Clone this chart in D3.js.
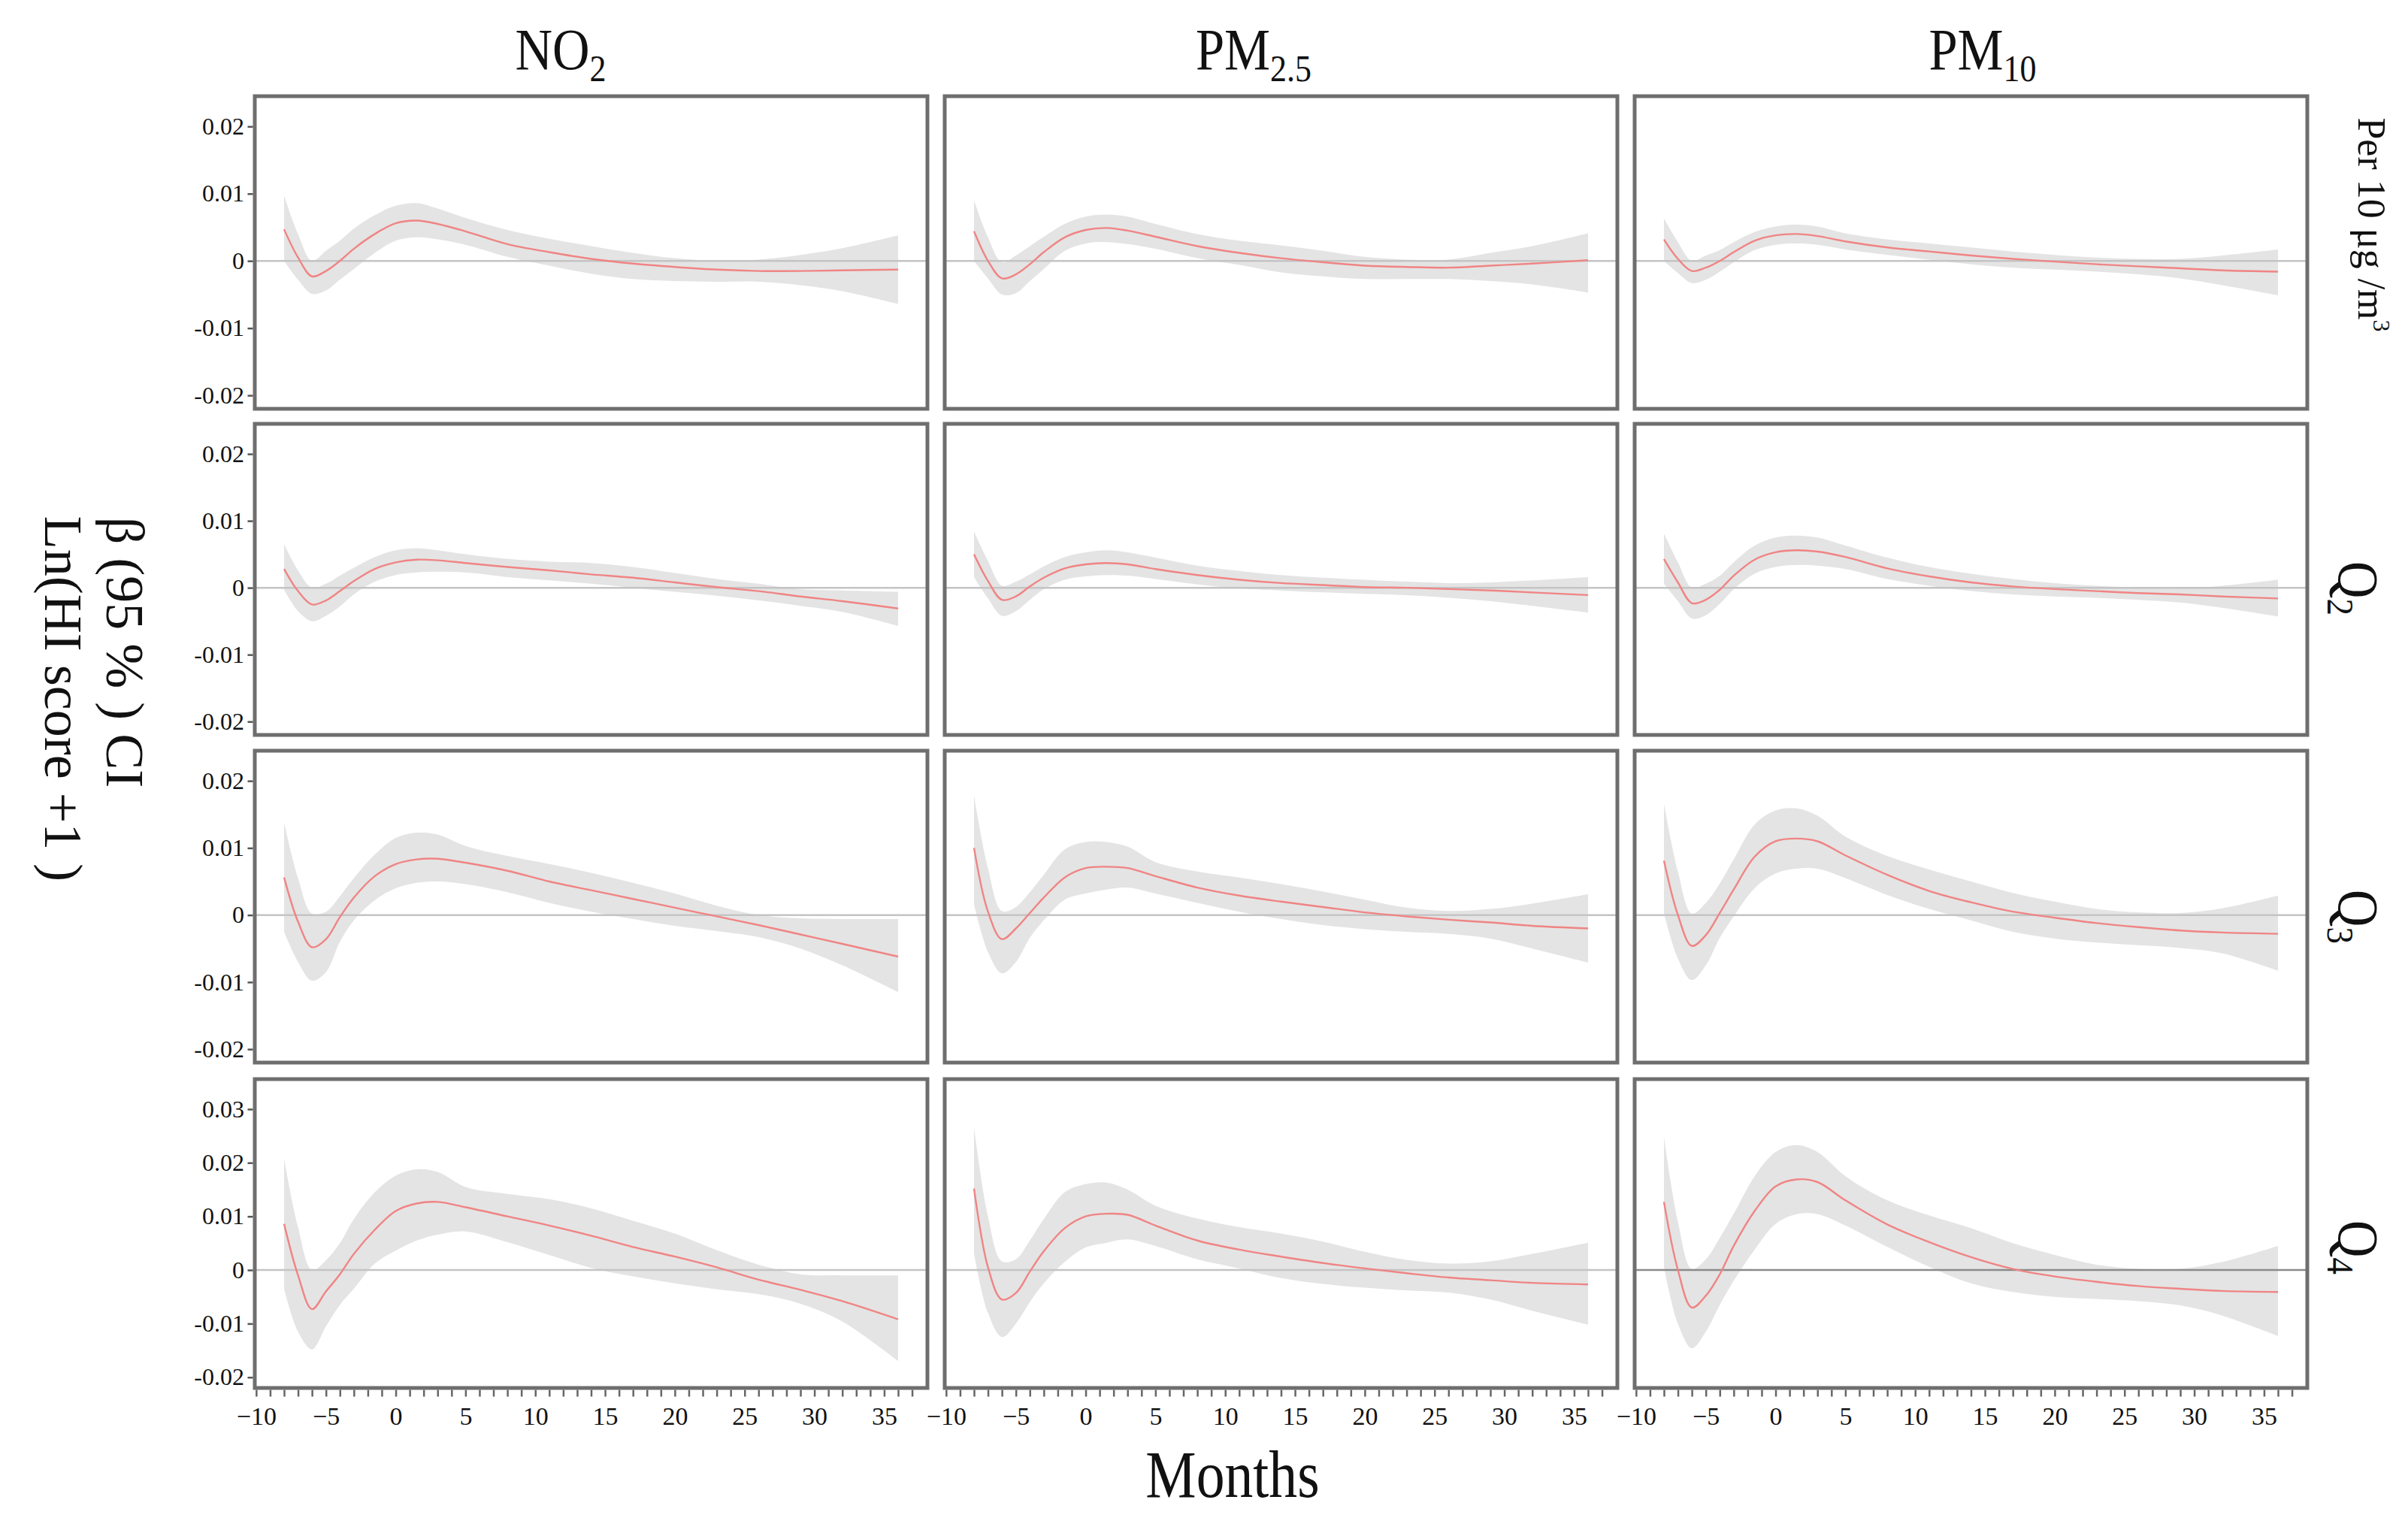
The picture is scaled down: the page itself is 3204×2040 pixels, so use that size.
<!DOCTYPE html>
<html>
<head>
<meta charset="utf-8">
<script src="https://cdn.jsdelivr.net/npm/d3@7"></script>
<style>
  html, body { margin: 0; padding: 0; background: #fff; }
  svg text { font-family: "Liberation Serif", "Times New Roman", serif; fill: #111; }
</style>
</head>
<body>
<svg id="chart" width="3204" height="2040"></svg>
<script>
/* distributed-lag curves: beta (95% CI), values in units of 0.001 */

const MONTHS = [-8, -7, -6, -5, -4, -3, -1.5, 0, 1.5, 3, 5, 8, 11, 14, 17, 20, 23, 26, 29, 32, 36];

const COL_MAIN = ["NO", "PM", "PM"];
const COL_SUB  = ["2", "2.5", "10"];
const ROW_MAIN = ["Per 10 μg /m", "Q", "Q", "Q"];
const ROW_SUP  = ["3", "", "", ""];
const ROW_SUB  = ["", "2", "3", "4"];

const Y_TICKS       = [20, 10, 0, -10, -20];
const Y_TICK_LABELS = ["0.02", "0.01", "0", "-0.01", "-0.02"];
const Y_TICKS_Q4       = [30, 20, 10, 0, -10, -20];
const Y_TICK_LABELS_Q4 = ["0.03", "0.02", "0.01", "0", "-0.01", "-0.02"];
const X_TICKS       = [-10, -5, 0, 5, 10, 15, 20, 25, 30, 35];
const X_TICK_LABELS = ["−10", "−5", "0", "5", "10", "15", "20", "25", "30", "35"];

// rows: per 10 µg/m3, Q2, Q3, Q4
const NO2_FIT = [
  [4.7, 0.5, -2.3, -1.5, 0.0, 1.8, 4.0, 5.6, 6.0, 5.5, 4.4, 2.5, 1.3, 0.3, -0.4, -0.9, -1.3, -1.5, -1.5, -1.4, -1.3],
  [2.8, -0.5, -2.5, -1.9, -0.5, 1.0, 2.8, 3.8, 4.2, 4.1, 3.7, 3.1, 2.6, 2.0, 1.5, 0.8, 0.1, -0.5, -1.3, -2.0, -3.1],
  [5.6, -1.0, -4.8, -3.6, -0.3, 2.6, 5.8, 7.6, 8.3, 8.4, 7.8, 6.6, 5.0, 3.7, 2.4, 1.1, -0.2, -1.5, -2.9, -4.3, -6.2],
  [8.6, -1.0, -7.3, -4.0, -0.8, 3.0, 7.5, 11.0, 12.4, 12.7, 11.7, 10.0, 8.3, 6.4, 4.3, 2.5, 0.5, -1.8, -3.7, -5.8, -9.2]
];
const NO2_HI = [
  [9.7, 4.0, 0.0, 1.5, 3.0, 4.8, 6.8, 8.2, 8.6, 7.8, 6.4, 4.6, 3.3, 2.2, 1.2, 0.4, 0.0, 0.2, 0.9, 1.9, 3.8],
  [6.5, 2.6, 0.0, 0.6, 1.8, 3.0, 4.6, 5.6, 5.9, 5.6, 5.0, 4.3, 3.9, 3.7, 3.1, 2.2, 1.3, 0.6, -0.2, -0.4, -0.6],
  [13.8, 5.5, 0.2, 0.5, 2.8, 5.5, 9.0, 11.5, 12.3, 12.0, 10.3, 8.8, 7.6, 6.3, 4.8, 3.2, 1.4, 0.0, -0.5, -0.6, -0.6],
  [20.7, 8.0, 0.0, 1.8, 5.0, 9.5, 14.5, 17.6, 18.8, 18.3, 15.5, 14.2, 13.2, 11.5, 9.2, 6.8, 3.7, 1.0, -0.8, -1.0, -1.0]
];
const NO2_LO = [
  [0.0, -2.8, -4.9, -4.4, -2.8, -1.2, 1.2, 3.0, 3.5, 3.2, 2.4, 0.6, -0.7, -1.9, -2.7, -3.0, -3.1, -3.1, -3.6, -4.5, -6.4],
  [-0.3, -3.5, -5.0, -4.2, -2.8, -1.0, 0.9, 1.9, 2.3, 2.4, 2.3, 1.6, 1.1, 0.6, 0.0, -0.6, -1.2, -1.9, -2.7, -3.6, -5.7],
  [-2.5, -7.0, -9.8, -8.5, -4.0, -0.8, 2.2, 4.0, 4.8, 5.0, 4.6, 3.4, 1.8, 0.5, -0.6, -1.6, -2.4, -3.3, -5.0, -7.5, -11.5],
  [-3.5, -11.5, -14.8, -10.5, -6.5, -3.5, 1.2, 3.6, 5.5, 6.6, 7.2, 5.2, 2.8, 0.4, -1.2, -2.5, -3.6, -4.5, -6.3, -9.6, -17.0]
];

const PM25_FIT = [
  [4.4, 0.0, -2.6, -2.0, -0.5, 1.3, 3.5, 4.6, 4.9, 4.5, 3.6, 2.2, 1.2, 0.4, -0.2, -0.7, -0.9, -1.0, -0.7, -0.4, 0.1],
  [5.0, 1.0, -1.8, -1.3, 0.2, 1.5, 2.9, 3.5, 3.7, 3.5, 2.8, 1.9, 1.2, 0.7, 0.4, 0.1, 0.0, -0.2, -0.4, -0.7, -1.1],
  [10.0, 0.5, -3.6, -2.0, 0.3, 2.6, 5.6, 7.0, 7.2, 7.0, 5.8, 4.1, 2.9, 2.0, 1.2, 0.4, -0.2, -0.7, -1.1, -1.6, -2.0],
  [15.2, 0.5, -5.5, -4.3, -0.3, 3.5, 7.8, 10.0, 10.5, 10.3, 8.3, 5.5, 3.8, 2.5, 1.3, 0.3, -0.6, -1.4, -1.9, -2.4, -2.7]
];
const PM25_HI = [
  [9.0, 3.5, -0.2, 0.8, 2.2, 3.6, 5.5, 6.6, 6.9, 6.6, 5.5, 4.0, 3.0, 2.3, 1.5, 0.6, 0.2, 0.2, 1.2, 2.2, 4.1],
  [8.4, 4.0, 0.3, 0.9, 2.0, 3.2, 4.6, 5.3, 5.6, 5.3, 4.5, 3.3, 2.5, 1.9, 1.5, 1.2, 0.9, 0.7, 0.8, 1.1, 1.6],
  [17.8, 7.0, 0.6, 1.2, 3.4, 6.0, 9.8, 10.9, 10.9, 10.2, 7.9, 6.5, 5.6, 4.6, 3.5, 2.3, 1.1, 0.6, 0.9, 1.7, 3.1],
  [26.6, 10.0, 1.6, 2.0, 5.5, 9.5, 14.5, 16.0, 16.3, 15.0, 12.0, 9.6, 8.0, 6.8, 5.3, 3.4, 1.9, 1.2, 1.6, 3.0, 5.1]
];
const PM25_LO = [
  [0.0, -2.6, -5.0, -4.8, -3.0, -1.2, 1.5, 2.6, 2.8, 2.5, 1.8, 0.4, -0.6, -1.7, -2.3, -2.7, -2.7, -2.7, -3.0, -3.5, -4.7],
  [1.6, -1.6, -4.2, -3.5, -1.8, -0.2, 1.2, 1.7, 1.9, 1.8, 1.3, 0.5, -0.1, -0.4, -0.7, -0.9, -1.1, -1.5, -2.0, -2.7, -3.7],
  [1.6, -5.5, -8.7, -7.0, -3.4, -0.8, 2.3, 3.2, 3.8, 4.1, 3.2, 1.8, 0.5, -0.6, -1.5, -2.1, -2.5, -2.8, -3.5, -5.0, -7.1],
  [3.1, -8.0, -12.5, -10.0, -6.0, -2.5, 1.5, 4.2, 5.1, 5.7, 4.5, 2.0, 0.3, -1.5, -2.6, -3.3, -3.8, -4.2, -5.5, -7.6, -10.2]
];

const PM10_FIT = [
  [3.2, 0.3, -1.5, -1.0, 0.0, 1.3, 3.0, 3.8, 4.0, 3.7, 2.9, 2.0, 1.4, 0.8, 0.3, -0.1, -0.5, -0.8, -1.1, -1.4, -1.6],
  [4.3, 0.8, -2.3, -1.8, -0.3, 1.8, 4.2, 5.3, 5.6, 5.4, 4.6, 2.9, 1.7, 0.8, 0.2, -0.2, -0.5, -0.8, -1.0, -1.3, -1.6],
  [8.1, 0.0, -4.6, -3.0, 0.3, 3.8, 8.7, 11.0, 11.4, 11.0, 8.9, 6.0, 3.6, 1.9, 0.5, -0.4, -1.2, -1.8, -2.3, -2.6, -2.8],
  [12.7, 0.0, -7.0, -4.8, -0.8, 4.5, 11.0, 15.6, 16.9, 16.4, 13.0, 8.5, 5.2, 2.4, 0.2, -1.2, -2.2, -3.0, -3.5, -3.9, -4.1]
];
const PM10_HI = [
  [6.3, 2.8, 0.0, 0.8, 1.6, 2.8, 4.3, 5.1, 5.4, 5.1, 4.1, 3.2, 2.6, 2.0, 1.4, 0.9, 0.5, 0.3, 0.3, 0.8, 1.7],
  [8.1, 3.8, 0.0, 0.6, 1.8, 3.8, 6.3, 7.5, 7.8, 7.5, 6.3, 4.5, 3.1, 2.1, 1.3, 0.7, 0.3, 0.0, -0.1, 0.3, 1.2],
  [16.6, 6.5, 0.2, 1.8, 4.7, 8.3, 13.5, 15.6, 15.9, 14.8, 11.7, 8.8, 6.8, 5.0, 3.3, 2.0, 0.9, 0.4, 0.3, 1.0, 2.9],
  [24.8, 9.0, 0.2, 2.0, 6.0, 10.5, 17.5, 22.0, 23.3, 22.0, 17.5, 13.0, 10.2, 7.8, 5.0, 2.8, 1.0, 0.2, 0.2, 1.5, 4.5]
];
const PM10_LO = [
  [0.0, -1.8, -3.3, -2.8, -1.6, -0.2, 1.6, 2.4, 2.6, 2.4, 1.7, 0.9, 0.2, -0.5, -1.0, -1.3, -1.6, -2.0, -2.6, -3.6, -5.1],
  [0.6, -2.0, -4.6, -4.1, -2.4, -0.2, 2.1, 3.1, 3.4, 3.3, 2.8, 1.3, 0.3, -0.5, -1.0, -1.3, -1.5, -1.8, -2.2, -3.0, -4.3],
  [0.3, -6.5, -9.7, -7.5, -3.4, -0.2, 4.0, 6.2, 6.9, 6.9, 5.5, 3.0, 0.9, -0.8, -2.5, -3.5, -4.1, -4.5, -4.9, -5.7, -8.3],
  [0.6, -10.0, -14.6, -11.5, -6.5, -2.0, 3.8, 8.6, 10.4, 10.4, 8.3, 4.3, 0.6, -2.5, -4.1, -5.0, -5.4, -5.8, -6.6, -8.5, -12.3]
];

const FITS = [NO2_FIT, PM25_FIT, PM10_FIT];
const HIS  = [NO2_HI, PM25_HI, PM10_HI];
const LOS  = [NO2_LO, PM25_LO, PM10_LO];

/* ── layout ─────────────────────────────── */
const PANEL_X = [339, 1257, 2175];
const PANEL_W = 895;
const PANEL_Y = [128, 564, 999, 1436];
const PANEL_H = [416, 414, 415, 411];
const Y_DOMAIN    = [-22, 24.5];
const Y_DOMAIN_Q4 = [-22, 35.6];

const SERIF   = "'Liberation Serif', 'Times New Roman', serif";
const RIBBON  = "#e4e4e4";
const FIT_COL = "#f08484";
const BORDER  = "#6e6e6e";

const svg = d3.select("#chart");
const defs = svg.append("defs");

const x = d3.scaleLinear().domain([-10.1, 38.1]).range([0, PANEL_W]);

const line = d3.line()
  .x((d, i) => x(MONTHS[i]))
  .curve(d3.curveCatmullRom.alpha(0.5));

const area = d3.area()
  .x((d, i) => x(MONTHS[i]))
  .curve(d3.curveCatmullRom.alpha(0.5));

for (let r = 0; r < 4; r++) {
  const y = d3.scaleLinear()
    .domain(r === 3 ? Y_DOMAIN_Q4 : Y_DOMAIN)
    .range([PANEL_H[r], 0]);

  line.y(d => y(d));

  for (let c = 0; c < 3; c++) {
    const g = svg.append("g").attr("transform", `translate(${PANEL_X[c]},${PANEL_Y[r]})`);
    const clipId = `clip-${r}-${c}`;
    defs.append("clipPath").attr("id", clipId)
      .append("rect").attr("width", PANEL_W).attr("height", PANEL_H[r]);

    const plot = g.append("g").attr("clip-path", `url(#${clipId})`);
    const lo = LOS[c][r], hi = HIS[c][r], fit = FITS[c][r];

    plot.append("path")
      .datum(fit)
      .attr("fill", RIBBON)
      .attr("d", area.y0((d, i) => y(lo[i])).y1((d, i) => y(hi[i])));

    plot.append("line")
      .attr("x1", 0).attr("x2", PANEL_W)
      .attr("y1", y(0)).attr("y2", y(0))
      .attr("stroke", (r === 3 && c === 2) ? "#8a8a8a" : "#c4c4c4")
      .attr("stroke-width", 2.5);

    plot.append("path")
      .datum(fit)
      .attr("fill", "none")
      .attr("stroke", FIT_COL)
      .attr("stroke-width", 2.4)
      .attr("d", line);

    g.append("rect")
      .attr("width", PANEL_W).attr("height", PANEL_H[r])
      .attr("fill", "none")
      .attr("stroke", BORDER)
      .attr("stroke-width", 5);

    // y axis only on the first column
    if (c === 0) {
      const ticks = r === 3 ? Y_TICKS_Q4 : Y_TICKS;
      const labels = r === 3 ? Y_TICK_LABELS_Q4 : Y_TICK_LABELS;
      const yAxis = d3.axisLeft(y)
        .tickValues(ticks)
        .tickSize(7)
        .tickPadding(6)
        .tickFormat((d, i) => labels[i]);
      g.append("g").attr("class", "yaxis").call(yAxis)
        .call(a => a.select(".domain").remove())
        .call(a => a.selectAll("line").attr("stroke", "#555").attr("stroke-width", 2.5).attr("transform", "translate(-2.5,0)"))
        .call(a => a.selectAll("text")
          .style("font-family", SERIF)
          .attr("font-size", 32)
          .attr("fill", "#333")
          .attr("x", -14));
    }

    // x axis on the bottom row
    if (r === 3) {
      const ax = g.append("g").attr("transform", `translate(0,${PANEL_H[r] + 2.5})`);
      ax.call(d3.axisBottom(x).tickValues(d3.range(-10, 38)).tickSize(9).tickFormat(""))
        .call(a => a.select(".domain").remove())
        .call(a => a.selectAll("line").attr("stroke", "#666").attr("stroke-width", 2.5));
      const lab = g.append("g").attr("transform", `translate(0,${PANEL_H[r] + 2.5})`);
      lab.call(d3.axisBottom(x).tickValues(X_TICKS).tickSize(0).tickPadding(0).tickFormat((d, i) => X_TICK_LABELS[i]))
        .call(a => a.select(".domain").remove())
        .call(a => a.selectAll("text")
          .style("font-family", SERIF)
          .attr("font-size", 34)
          .attr("fill", "#333")
          .attr("y", 46)
          .attr("dy", 0));
    }
  }
}

/* ── column headers ─────────────────────── */
const HEADER_X = [746, 1668, 2638];
COL_MAIN.forEach((m, i) => {
  const t = svg.append("text")
    .attr("transform", `translate(${HEADER_X[i]},92) scale(0.88,1)`)
    .attr("text-anchor", "middle")
    .attr("font-size", 78);
  t.append("tspan").text(m);
  t.append("tspan").attr("font-size", 50).attr("dy", 16).text(COL_SUB[i]);
});

/* ── row strip labels (rotated) ─────────── */
const ROW_LABEL_Y = [299, 783, 1220, 1660];
ROW_MAIN.forEach((m, i) => {
  const isFirst = i === 0;
  const fs = isFirst ? 52 : 76;
  const t = svg.append("text")
    .attr("transform", `translate(${isFirst ? 3138 : 3112},${ROW_LABEL_Y[i]}) rotate(90) scale(${isFirst ? 1 : 0.9},1)`)
    .attr("text-anchor", "middle")
    .attr("font-size", fs);
  t.append("tspan").text(m);
  if (ROW_SUP[i]) t.append("tspan").attr("font-size", 32).attr("dy", -20).text(ROW_SUP[i]);
  if (ROW_SUB[i]) t.append("tspan").attr("font-size", 50).attr("dy", 15).text(ROW_SUB[i]);
});

/* ── axis titles ────────────────────────── */
svg.append("text")
  .attr("transform", "translate(142,868) rotate(90)")
  .attr("text-anchor", "middle")
  .attr("font-size", 72)
  .text("β (95 % ) CI");

svg.append("text")
  .attr("transform", "translate(60,930) rotate(90)")
  .attr("text-anchor", "middle")
  .attr("font-size", 72)
  .text("Ln(HI score +1 )");

svg.append("text")
  .attr("transform", "translate(1640,1992) scale(0.86,1)")
  .attr("text-anchor", "middle")
  .attr("font-size", 88)
  .text("Months");
</script>
</body>
</html>
